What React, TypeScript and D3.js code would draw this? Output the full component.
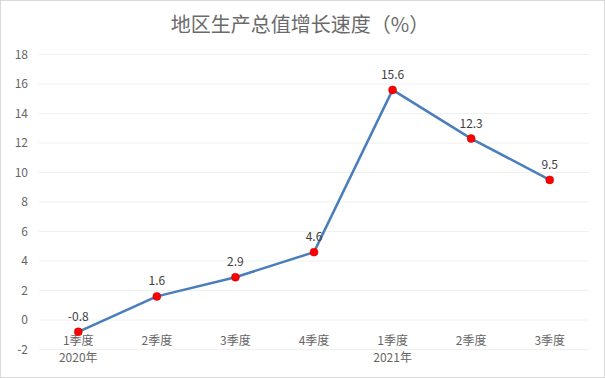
import React from "react";
import * as d3 from "d3";

const quarters = ["1季度", "2季度", "3季度", "4季度", "1季度", "2季度", "3季度"];
const years = ["2020年", "", "", "", "2021年", "", ""];
const growth = [-0.8, 1.6, 2.9, 4.6, 15.6, 12.3, 9.5];
const yTicks = [-2, 0, 2, 4, 6, 8, 10, 12, 14, 16, 18];
const title = "地区生产总值增长速度（%）";

export default function App() {
  const W = 605, H = 378;
  const x = d3.scaleBand<number>().domain(d3.range(quarters.length)).range([39, 589]);
  const y = d3.scaleLinear().domain([-2, 18]).range([349.5, 54.5]);
  const cx = (i: number) => (x(i) as number) + x.bandwidth() / 2;
  const line = d3.line<number>().x((_, i) => cx(i)).y((d) => y(d));
  const font = "'Microsoft YaHei', 'Noto Sans CJK SC', sans-serif";
  return (
    <svg width={W} height={H} style={{ position: "absolute", left: 0, top: 0 }}>
      <rect x={0.5} y={0.5} width={W - 1} height={H - 1} fill="#fff" stroke="#d9d9d9" />
      <text x={300} y={32} textAnchor="middle" fontSize={20} fill="#6a6a6a" fontFamily={font}>{title}</text>
      {yTicks.map((t) => (
        <g key={t}>
          <line x1={39} x2={589} y1={y(t)} y2={y(t)} stroke="#f0f0f0" strokeWidth={1} />
          <text x={28} y={y(t) + 4} textAnchor="end" fontSize={12} fill="#666" fontFamily={font}>{t}</text>
        </g>
      ))}
      {quarters.map((q, i) => (
        <g key={i}>
          <text x={cx(i)} y={345} textAnchor="middle" fontSize={12} fill="#666" fontFamily={font}>{q}</text>
          {years[i] && (
            <text x={cx(i)} y={362} textAnchor="middle" fontSize={12} fill="#666" fontFamily={font}>{years[i]}</text>
          )}
        </g>
      ))}
      <path d={line(growth) || ""} fill="none" stroke="#4a7ebb" strokeWidth={2.5} strokeLinejoin="round" />
      {growth.map((v, i) => (
        <g key={i}>
          <circle cx={cx(i)} cy={y(v)} r={4} fill="#ff0000" stroke="#c00000" strokeWidth={0.5} />
          <text x={cx(i)} y={y(v) - 11} textAnchor="middle" fontSize={12} fill="#404040" fontFamily={font}>{v}</text>
        </g>
      ))}
    </svg>
  );
}
